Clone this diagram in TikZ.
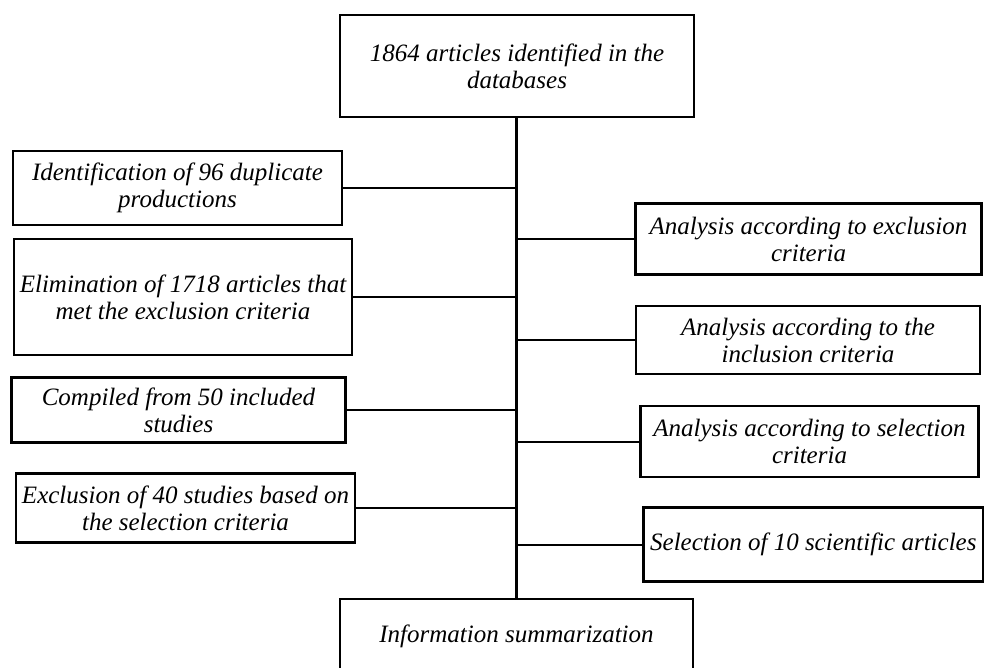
\documentclass[tikz,border=0pt]{standalone}
\usepackage{fontspec}
\setmainfont{Liberation Serif}
\begin{document}
\begin{tikzpicture}[x=1pt,y=-1pt,
  box/.style={draw=black, line width=2.4pt, rectangle, inner sep=0pt, align=center,
    font=\fontsize{25}{27}\selectfont\itshape},
  link/.style={draw=black, line width=2pt},
  trunk/.style={draw=black, line width=3pt}]
\useasboundingbox (0,0) rectangle (984,668);
\node[box, minimum width=354, minimum height=102] (top) at (517,66) {1864 articles identified in the\\databases};
\node[box, minimum width=329, minimum height=74] (l1) at (177.5,188) {Identification of 96 duplicate\\productions};
\node[box, minimum width=338, minimum height=116] (l2) at (183,297) {Elimination of 1718 articles that\\met the exclusion criteria};
\node[box, minimum width=334, minimum height=65] (l3) at (178.5,410) {Compiled from 50 included\\studies};
\node[box, minimum width=339, minimum height=69] (l4) at (185.5,508) {Exclusion of 40 studies based on\\the selection criteria};
\node[box, minimum width=346, minimum height=71] (r1) at (808.5,239) {Analysis according to exclusion\\criteria};
\node[box, minimum width=344, minimum height=68] (r2) at (808,340) {Analysis according to the\\inclusion criteria};
\node[box, minimum width=338, minimum height=71] (r3) at (809.5,441.7) {Analysis according to selection\\criteria};
\node[box, minimum width=340, minimum height=74] (r4) at (813.3,544.5) {Selection of 10 scientific articles};
\node[box, minimum width=353, minimum height=74] (bot) at (516.5,636) {Information summarization};
\coordinate (tx) at (516.5,0);
\draw[trunk] (top.south -| tx) -- (bot.north -| tx);
\foreach \n in {l1,l2,l3,l4}{
  \draw[link] (\n.east) -- (\n.east -| tx);
}
\foreach \n in {r1,r2,r3,r4}{
  \draw[link] (\n.west) -- (\n.west -| tx);
}
\end{tikzpicture}
\end{document}
